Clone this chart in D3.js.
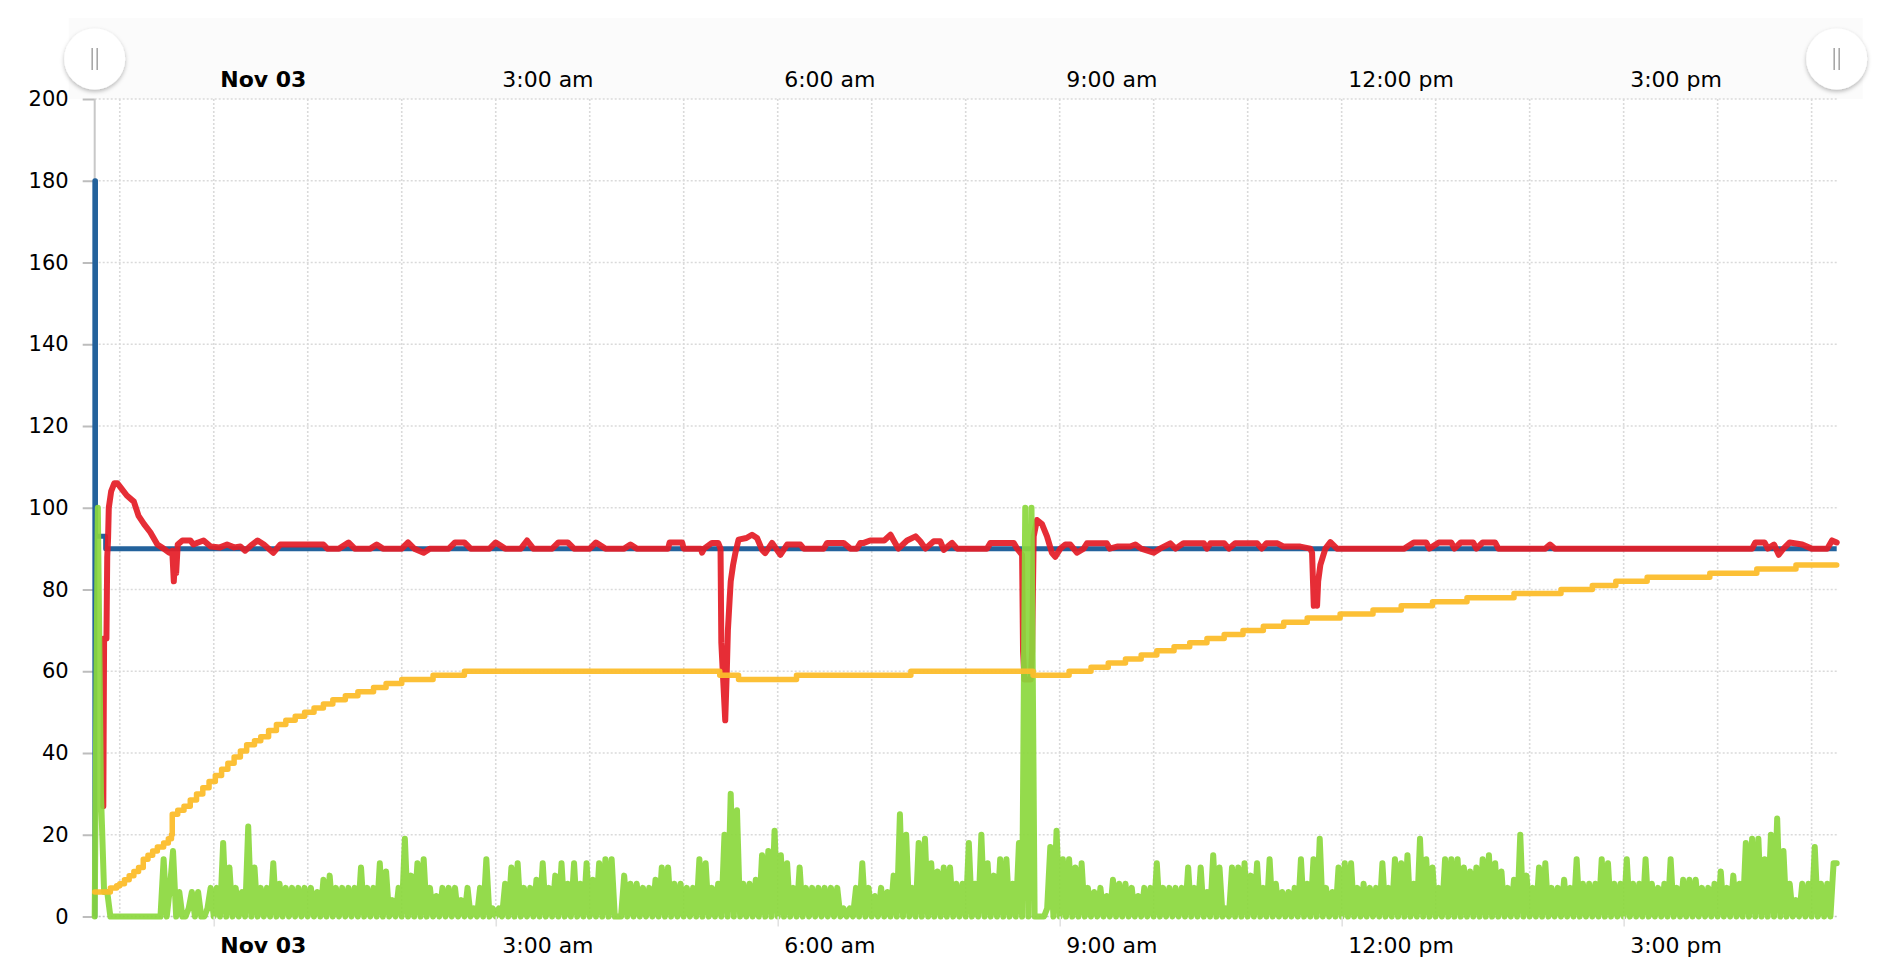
<!DOCTYPE html>
<html><head><meta charset="utf-8">
<script src="https://cdn.jsdelivr.net/npm/d3@7"></script>
<style>
html,body{margin:0;padding:0;background:#fff;}
svg{display:block;font-family:"DejaVu Sans",Verdana,sans-serif;}
</style></head><body>
<svg id="chart" width="1888" height="976"></svg>
<script>
// ---------- data ----------
const startMinute = -76;           // minutes relative to Nov 03 00:00
const endMinute = 1036;
const yTicks = [0,20,40,60,80,100,120,140,160,180,200];
const timeTickHours = [0,3,6,9,12,15];
const timeTickLabels = ["Nov 03","3:00 am","6:00 am","9:00 am","12:00 pm","3:00 pm"];
const gridHours = [-1,0,1,2,3,4,5,6,7,8,9,10,11,12,13,14,15,16,17];

// [minute, value]
const setpoint = [[-76,0],[-75.9,180],[-75.5,93],[-69,90],[1036,90]];
const temperature = [[-70.5,27],[-70,68],[-68.5,68],[-68,88],[-67.5,92],[-67,100],[-65.5,104],[-63.5,106],[-61.5,106],[-59.5,105],[-55.5,103],[-51,101.5],[-48,98],[-44.5,96],[-40.5,94],[-36,91],[-32,90],[-28.5,89],[-26.5,89.5],[-25.5,82],[-24.5,89],[-24,84],[-23,91],[-20,92],[-15,92],[-13,91],[-10,91.5],[-6.5,92],[-2,90.5],[4,90.3],[8.5,91],[13,90.3],[17,90.5],[20,89.5],[24.5,91],[28,92],[32,91],[38,89],[42.5,91],[51,91],[55,91],[64,91],[70,91],[72.5,90],
[80,90],[86,91.5],[90,90],[100,90],[104,91],[108,90],[120,90],[124,91.5],[128,90],[134,89],[138,90],[150,90],[154,91.5],[160,91.5],[164,90],[176,90],[180,91.5],[186,90],[196,90],[200,92],[204,90],[216,90],[220,91.5],[226,91.5],[230,90],[240,90],[244,91.5],[250,90],[262,90],[266,91],[270,90],[290,90],[291,91.5],[299,91.5],[300,90],[311,90],[311.7,89],[313,90],[318,91.4],[322,91.4],[323.5,90],[324,67],[326.5,48],[327.5,60],[328.2,70],[329.3,77.5],[330,82],[331.5,86],[333,89],[335,92.2],[340,92.6],[343.6,93.4],[346.8,92.6],[350,89.7],[352,88.9],[356.4,91.4],[361.7,88.5],[366,91],[374.5,91],[376.6,90],[389.4,90],[391.5,91.4],[402,91.4],[406.4,90],[410.6,90],[412.8,91.4],[415,91.4],[419,92],[428,92],[432,93.4],[434,92],[437,90],[442.6,92],[448,93],[451,91.8],[454.3,90],[459.6,91.8],[463.8,91.8],[466,89.7],[471.3,91.4],[474.5,90],[493.6,90],[495.8,91.4],[510.6,91.4],[512.8,90],[516,88.5],[516.6,65],[517.5,58],[521.5,58],[522.4,65],[523.4,93],[525.5,97],[528.7,96],[531.9,93],[535,89],[537.2,88],[540.4,90],[543.6,91],[546.8,91],[551,89],[555.3,90],[557.4,91.3],[570,91.3],[572,90],[576.6,90.5],[585,90.5],[588.3,91],[592,90],[600,89],[604,90],[610.6,91.3],[614,90],[619,91.3],[632,91.3],[634,90],[636.2,91.3],[645,91.3],[648,90],[652,91.3],[666,91.3],[669,90],[672,91.3],[679,91.3],[683,90.5],[693.6,90.5],[700,90],[701.1,89],[702.2,76],[703,80],[704.3,76],[705,82],[706.4,86],[709.6,90],[712.8,91.6],[717,90],[760,90],[766,91.5],[774,91.5],[776,90],[782,91.5],[790,91.5],[792,90],[796,91.5],[804,91.5],[806,90],[810,91.5],[818,91.5],[820,90],[850,90],[853,91],[856,90],[982,90],[984,91.5],[990,91.5],[992,90],[996,91],[999,88.5],[1002,90],[1006,91.5],[1014,91],[1020,90],[1030,90],[1033,92],[1036,91.5]];
const output = [[-76,6],[-66,7],[-62,7.5],[-60,8],[-57,9],[-54,10],[-51,11],[-48,12],[-45,14],[-42,15],[-39,16],[-36,17],[-32,18],[-29,19],[-27,20],[-26.5,25],[-23,26],[-19,27],[-15,28.5],[-11,30],[-7,31.5],[-3,33],[1,34.5],[5,36],[9,37.5],[13,39],[17,40.5],[21,42],[26,43],[30,44],[35,45.5],[40,47],[46,48],[52,49],[58,50],[64,51],[70,52],[76,53],[84,54],[92,55],[102,56],[110,57],[120,58],[140,59],[160,60],[323,59],[335,58],[372,59],[445,60],[523,59],[546,60],[560,61],[571,62],[582,63],[592,64],[602,65],[613,66],[623,67],[634,68],[645,69],[657,70],[670,71],[683,72],[698,73],[719,74],[740,75],[758,76],[778,77],[800,78],[830,79],[860,80],[880,81],[895,82],[915,83],[955,84],[985,85],[1010,86],[1036,86]];

// green series: one reading every 2 minutes from -76
const powerStart = -76, powerStep = 2;
const power = [
0,100,30,6,6,0, 0,0,0,0,0,0,0,0,0,0,0,0,0,0,0,0, 14,0,7,16,0,6,0,0,2,6,0,6,0,0,2,7,
0,7,0,18,0,12,0,7,0,6,0,22,0,12,0,7,0,7,0,13,0,8,0,7,0,7,0,7,0,7,
0,7,0,6,0,9,0,10,0,7,0,7,0,7,0,7,0,12,0,7,0,7,0,13,0,11,0,4,0,7,
0,19,0,10,0,13,0,14,0,7,0,5,0,7,0,7,0,7,0,4,0,7,0,2,0,7,0,14,0,2,
0,2,0,8,0,12,0,13,0,7,0,7,0,9,0,13,0,7,0,10,0,13,0,8,0,13,0,8,0,13,
0,9,0,13,0,14,0,14,0,0,0,10,0,8,0,8,0,7,0,7,0,9,0,12,0,12,0,8,0,8,
0,7,0,7,0,14,0,13,0,7,0,8,0,20,0,30,0,26,0,8,0,8,0,9,0,15,0,16,0,21,
0,15,0,13,0,7,0,12,0,7,0,7,0,7,0,7,0,7,0,7,0,2,0,2,0,7,0,13,0,7,
0,5,0,7,0,6,0,10,0,25,0,20,0,7,0,18,0,19,0,13,0,11,0,12,0,12,0,8,0,8,
0,18,0,8,0,20,0,13,0,10,0,14,0,14,0,8,0,18,0,100,0,100,0,0,0,0,2,17,0,21,
0,14,0,14,0,12,0,13,0,7,0,6,0,7,0,5,0,9,0,8,0,8,0,7,0,5,0,7,0,7,
0,13,0,7,0,7,0,7,0,7,0,12,0,7,0,12,0,6,0,15,0,12,0,2,0,12,0,12,0,13,
0,10,0,13,0,7,0,14,0,8,0,6,0,6,0,7,0,14,0,8,0,14,0,19,0,7,0,6,0,12,
0,13,0,13,0,7,0,8,0,7,0,7,0,13,0,7,0,14,0,13,0,15,0,8,0,19,0,14,0,12,
0,7,0,14,0,14,0,14,0,12,0,11,0,12,0,14,0,15,0,13,0,11,0,7,0,9,0,20,0,10,
0,7,0,12,0,13,0,7,0,7,0,9,0,7,0,14,0,8,0,8,0,8,0,14,0,13,0,8,0,8,
0,14,0,8,0,8,0,14,0,8,0,7,0,8,0,14,0,7,0,9,0,9,0,9,0,7,0,7,0,8,
0,11,0,7,0,10,0,8,0,18,0,19,0,19,0,14,0,20,0,24,0,16,0,8,0,4,0,8,0,8,
0,17,0,8,0,8,0,13,13
];

// ---------- layout ----------
const plotLeft = 94.7, plotRight = 1836.7, plotTop = 99, plotBottom = 916.5;
const base = new Date(2015, 10, 3, 0, 0, 0);
const t = m => new Date(base.getTime() + m * 60000);

const svg = d3.select("#chart");
const x = d3.scaleTime().domain([t(startMinute), t(endMinute)]).range([plotLeft, plotRight]);
const y = d3.scaleLinear().domain([0, 200]).range([plotBottom, plotTop]);

const defs = svg.append("defs");
const f = defs.append("filter").attr("id","shadow").attr("x","-50%").attr("y","-50%").attr("width","200%").attr("height","200%");
f.append("feDropShadow").attr("dx",0).attr("dy",2).attr("stdDeviation",2.2).attr("flood-color","#000").attr("flood-opacity",0.28);

// top band
svg.append("rect").attr("x", plotLeft - 26).attr("y", 18).attr("width", plotRight - plotLeft + 52).attr("height", plotTop - 18).attr("fill", "#fbfbfb");

// grid
const grid = svg.append("g");
grid.selectAll("line.h").data(yTicks).join("line")
  .attr("x1", plotLeft).attr("x2", plotRight)
  .attr("y1", d => y(d)).attr("y2", d => y(d))
  .attr("stroke", d => d === 0 ? "#c4c4c4" : "#dadada").attr("stroke-width", 1.6).attr("stroke-dasharray", "2,2");
grid.selectAll("line.v").data(gridHours).join("line")
  .attr("x1", d => x(t(d*60))).attr("x2", d => x(t(d*60)))
  .attr("y1", plotTop).attr("y2", plotBottom)
  .attr("stroke", "#dadada").attr("stroke-width", 1.6).attr("stroke-dasharray", "2,2");

// y axis
const yAxis = d3.axisLeft(y).tickValues(yTicks).tickSize(12).tickPadding(14);
const yg = svg.append("g").attr("transform", `translate(${plotLeft},0)`).call(yAxis);
yg.select(".domain").remove();
yg.selectAll(".tick line").attr("stroke", "#bdbdbd").attr("stroke-width", 2);
yg.selectAll(".tick text").attr("font-size", 21).attr("fill", "#000").attr("font-family", '"DejaVu Sans",Verdana,sans-serif');
svg.append("line").attr("x1", plotLeft).attr("x2", plotLeft).attr("y1", plotTop).attr("y2", plotBottom)
  .attr("stroke", "#c8c8c8").attr("stroke-width", 2);

// series
const pairLine = d3.line().x(d => x(t(d[0]))).y(d => y(d[1]));
svg.append("path")
  .attr("d", pairLine.curve(d3.curveStepAfter)(setpoint))
  .attr("fill", "none").attr("stroke", "#23629c").attr("stroke-width", 5).attr("stroke-linejoin", "round");
svg.append("path")
  .attr("d", d3.line().x(d => x(t(d[0]))).y(d => y(d[1])).curve(d3.curveLinear)(temperature))
  .attr("fill", "none").attr("stroke", "#e41d27").attr("stroke-opacity", 0.93).attr("stroke-width", 6)
  .attr("stroke-linejoin", "round").attr("stroke-linecap", "round");
svg.append("path")
  .attr("d", d3.line().x((d, i) => x(t(powerStart + i * powerStep))).y(d => y(d))(power))
  .attr("fill", "none").attr("stroke", "#8bd83d").attr("stroke-opacity", 0.92).attr("stroke-width", 6)
  .attr("stroke-linejoin", "round").attr("stroke-linecap", "round");
svg.append("path")
  .attr("d", d3.line().x(d => x(t(d[0]))).y(d => y(d[1])).curve(d3.curveStepAfter)(output))
  .attr("fill", "none").attr("stroke", "#fcbd2b").attr("stroke-opacity", 0.95).attr("stroke-width", 5.5)
  .attr("stroke-linejoin", "round").attr("stroke-linecap", "round");

// x axes
function styleX(sel, yPos) {
  sel.select(".domain").remove();
  sel.selectAll(".tick text")
    .attr("text-anchor", "start").attr("x", 6).attr("y", yPos).attr("dy", 0)
    .attr("font-size", 22).attr("fill", "#000")
    .attr("font-family", '"DejaVu Sans",Verdana,sans-serif')
    .attr("font-weight", (d, i) => i === 0 ? "bold" : "normal");
}
const tickDates = timeTickHours.map(h => t(h * 60));
const topAxis = d3.axisTop(x).tickValues(tickDates).tickSize(0).tickFormat((d, i) => timeTickLabels[i]);
svg.append("g").attr("transform", `translate(0,${plotTop})`).call(topAxis).call(s => styleX(s, -12));
const bottomAxis = d3.axisBottom(x).tickValues(tickDates).tickSize(10).tickFormat((d, i) => timeTickLabels[i]);
const bg = svg.append("g").attr("transform", `translate(0,${plotBottom})`).call(bottomAxis).call(s => styleX(s, 36.5));
bg.selectAll(".tick line").attr("stroke", "#e2e2e2").attr("stroke-width", 1.6);

// handles
[plotLeft, plotRight].forEach(cx => {
  const h = svg.append("g");
  h.append("circle").attr("cx", cx).attr("cy", 59).attr("r", 30.5).attr("fill", "#fff").attr("filter", "url(#shadow)");
  [-2.5, 2.5].forEach(dx => h.append("line").attr("x1", cx + dx).attr("x2", cx + dx).attr("y1", 48).attr("y2", 70)
    .attr("stroke", "#a8a8a8").attr("stroke-width", 1.6));
});
</script>
</body></html>
